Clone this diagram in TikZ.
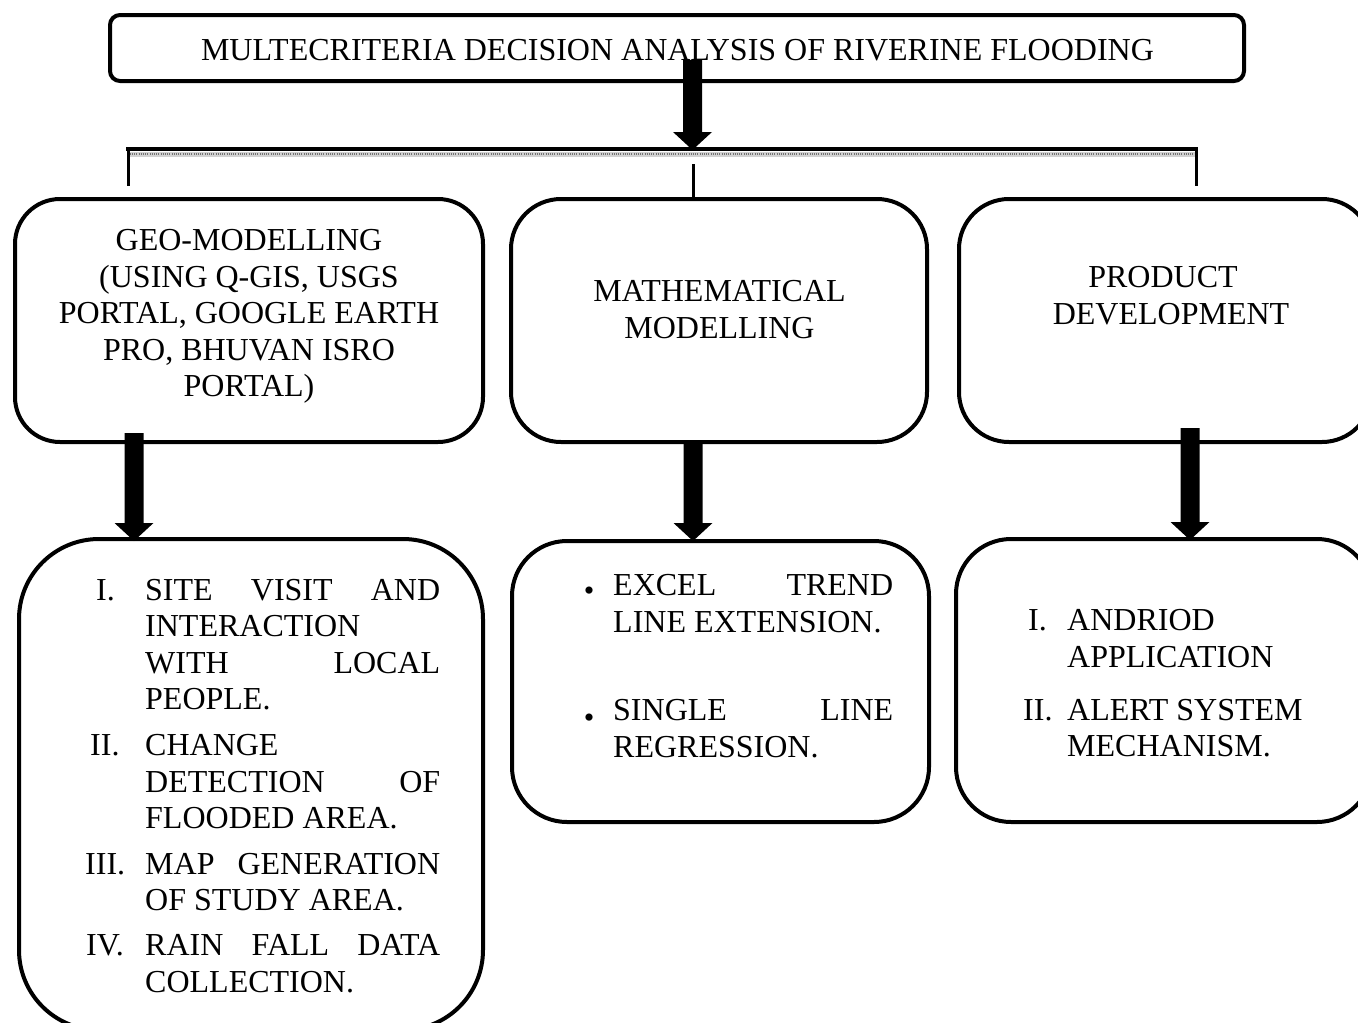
\documentclass[tikz,border=0pt]{standalone}
\usepackage{fontspec}
\setmainfont{Liberation Serif}
\usetikzlibrary{calc}
\newcommand\bigtxt{\fontsize{32}{36.6}\selectfont}
\newcommand\bultxt{\fontsize{30}{30}\selectfont}
% fat block arrow from #1 (start of shaft) to #2 (tip)
\newcommand\fatarrow[2]{%
  \fill ($(#1)+(-9.5,0)$) -- ($(#2)+(-9.5,-18)$) -- ($(#2)+(-19.5,-18)$) -- (#2)
    -- ($(#2)+(19.5,-18)$) -- ($(#2)+(9.5,-18)$) -- ($(#1)+(9.5,0)$) -- cycle;}
\begin{document}
\begin{tikzpicture}[x=1pt,y=-1pt,
  box/.style={draw, line width=4pt, inner sep=0pt, outer sep=0pt},
  lbl/.style={anchor=base, inner sep=0pt, font=\bigtxt},
  lbll/.style={anchor=base west, inner sep=0pt, font=\bigtxt},
  bul/.style={anchor=base, inner sep=0pt, font=\bultxt},
  drop/.style={line width=3pt},
]
\useasboundingbox (0,0) rectangle (1358,1023);
\clip (0,0) rectangle (1358,1023);

% ---------- boxes ----------
\node[box, rounded corners=10pt, minimum width=1134pt, minimum height=66pt] (title) at (677,48) {};
\node[box, rounded corners=45pt, minimum width=468pt, minimum height=243pt] (boxA) at (249,320.5) {};
\node[box, rounded corners=50pt, minimum width=416pt, minimum height=243pt] (boxB) at (719,320.5) {};
\node[box, rounded corners=50pt, minimum width=413pt, minimum height=243pt] (boxC) at (1165.5,320.5) {};
\node[box, rounded corners=80pt, minimum width=464pt, minimum height=491pt] (boxD) at (251,784.5) {};
\node[box, rounded corners=55pt, minimum width=417pt, minimum height=281pt] (boxE) at (720.5,681.5) {};
\node[box, rounded corners=55pt, minimum width=416pt, minimum height=283pt] (boxF) at (1164,680.5) {};

% ---------- texts ----------
\node[lbl] (t0) at (677.5,60) {MULTECRITERIA DECISION ANALYSIS OF RIVERINE FLOODING};

\node[lbl] (a1) at (249,250) {GEO-MODELLING};
\node[lbl] (a2) at (249,287) {(USING Q-GIS, USGS};
\node[lbl] (a3) at (249,323) {PORTAL, GOOGLE EARTH};
\node[lbl] (a4) at (249,360) {PRO, BHUVAN ISRO};
\node[lbl] (a5) at (249,396) {PORTAL)};

\node[lbl] (b1) at (719.5,301) {MATHEMATICAL};
\node[lbl] (b2) at (719.5,338) {MODELLING};

\node[lbl] (c1) at (1163,287) {PRODUCT};
\node[lbl] (c2) at (1171,324) {DEVELOPMENT};

\node[lbll] (dn1) at (96,600) {I.};
\node[lbll] (dn2) at (90,755.5) {II.};
\node[lbll] (dn3) at (85,874) {III.};
\node[lbll] (dn4) at (86,955.5) {IV.};
\node[lbll] (d1) at (145,600) {\makebox[295pt][s]{SITE VISIT AND}};
\node[lbll] (d2) at (145,636.6) {INTERACTION};
\node[lbll] (d3) at (145,673.2) {\makebox[295pt][s]{WITH LOCAL}};
\node[lbll] (d4) at (145,709.8) {PEOPLE.};
\node[lbll] (d5) at (145,755.5) {CHANGE};
\node[lbll] (d6) at (145,792) {\makebox[295pt][s]{DETECTION OF}};
\node[lbll] (d7) at (145,828.5) {FLOODED AREA.};
\node[lbll] (d8) at (145,874) {\makebox[295pt][s]{MAP GENERATION}};
\node[lbll] (d9) at (145,910.5) {OF STUDY AREA.};
\node[lbll] (d10) at (145,955.5) {\makebox[295pt][s]{RAIN FALL DATA}};
\node[lbll] (d11) at (145,992) {COLLECTION.};

\node[bul] (eb1) at (589,600) {\textbullet};
\node[bul] (eb2) at (589,727) {\textbullet};
\node[lbll] (e1) at (613,595) {\makebox[280pt][s]{EXCEL TREND}};
\node[lbll] (e2) at (613,632) {LINE EXTENSION.};
\node[lbll] (e3) at (613,720) {\makebox[280pt][s]{SINGLE LINE}};
\node[lbll] (e4) at (613,757) {REGRESSION.};

\node[lbll] (fn1) at (1028,630) {I.};
\node[lbll] (fn2) at (1023,720) {II.};
\node[lbll] (f1) at (1067,630) {ANDRIOD};
\node[lbll] (f2) at (1067,667) {APPLICATION};
\node[lbll] (f3) at (1067,720) {ALERT SYSTEM};
\node[lbll] (f4) at (1067,756) {MECHANISM.};

% ---------- bracket ----------
\coordinate (barL) at (126,149);
\coordinate (barR) at (1198,149);
\coordinate (barM) at (692.5,150);
\coordinate (tStart) at ($(title.south)+(15.5,-21)$);
\draw[line width=4.5pt] (barL) -- (barR);
\draw[line width=5pt, gray!35] ($(barL)+(1.5,5)$) -- ($(barR)+(-1.5,5)$);
\draw[line width=2.5pt, black!55, dash pattern=on 1pt off 1.2pt] ($(barL)+(1.5,5)$) -- ($(barR)+(-1.5,5)$);
\coordinate (dropL) at (128,186);
\coordinate (dropR) at (1196,186);
\draw[drop] ($(barL)+(2,0)$) -- (dropL);
\draw[drop] ($(barR)+(-2,0)$) -- (dropR);
\coordinate (midTop) at (693,164);
\draw[drop] (midTop) -- ($(boxB.north)+(-26,0)$);

% ---------- arrows ----------
\fatarrow{tStart}{barM}
\coordinate (sA) at ($(boxA.south)+(-115,-9)$);
\coordinate (eA) at ($(boxD.north)+(-117,2)$);
\fatarrow{sA}{eA}
\coordinate (sB) at ($(boxB.south)+(-26,-1)$);
\coordinate (eB) at ($(boxE.north)+(-27.5,0)$);
\fatarrow{sB}{eB}
\coordinate (sC) at ($(boxC.south)+(24.5,-14)$);
\coordinate (eC) at ($(boxF.north)+(26,1)$);
\fatarrow{sC}{eC}
\end{tikzpicture}
\end{document}
